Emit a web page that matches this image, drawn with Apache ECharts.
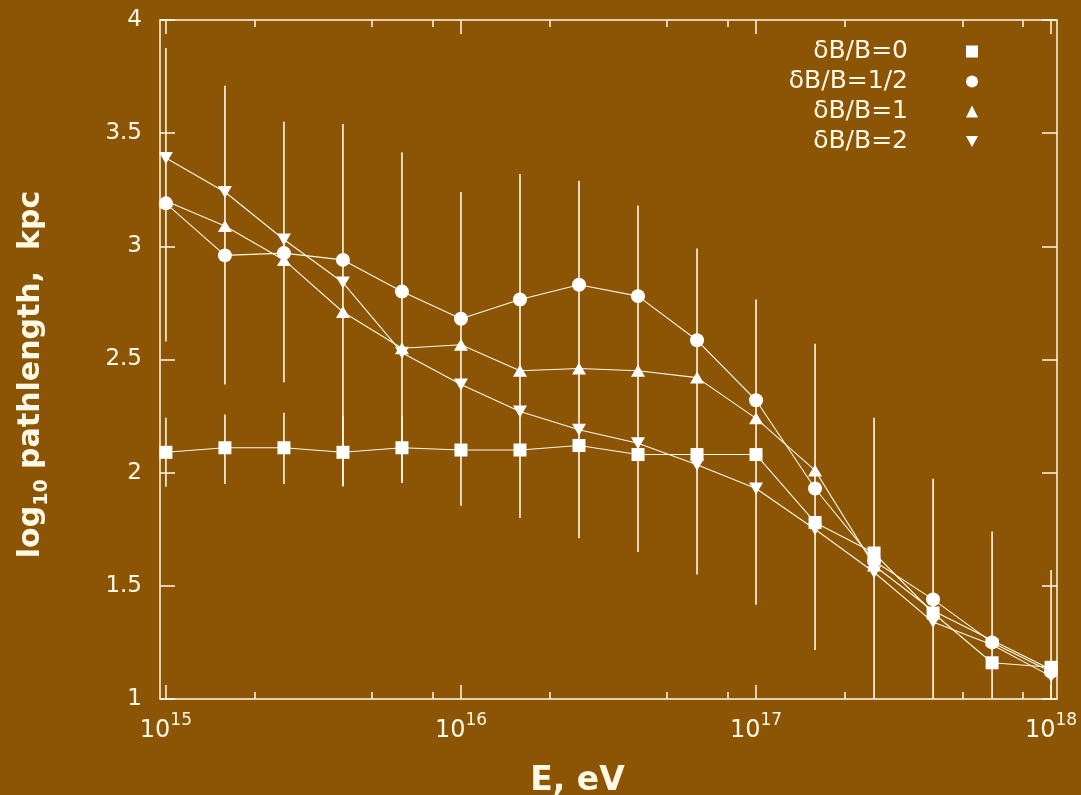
<!DOCTYPE html>
<html>
<head>
<meta charset="utf-8">
<script src="https://cdn.jsdelivr.net/npm/echarts@6/dist/echarts.min.js"></script>
<style>
html, body { margin: 0; padding: 0; background: #8c5505; }
#chart { width: 1081px; height: 795px; }
</style>
</head>
<body>
<div id="chart"></div>
<script>
// energies as log10(E/eV), 5 points per decade
var logE = [15, 15.2, 15.4, 15.6, 15.8, 16, 16.2, 16.4, 16.6, 16.8, 17, 17.2, 17.4, 17.6, 17.8, 18];

var names = ['δB/B=0', 'δB/B=1/2', 'δB/B=1', 'δB/B=2'];

var dB0  = [2.09, 2.11, 2.11, 2.09, 2.11, 2.10, 2.10, 2.12, 2.08, 2.08, 2.08, 1.78, 1.645, 1.38, 1.16, 1.14];
var dB05 = [3.19, 2.96, 2.97, 2.94, 2.80, 2.68, 2.765, 2.83, 2.78, 2.585, 2.32, 1.93, 1.61, 1.44, 1.25, 1.12];
var dB1  = [3.20, 3.09, 2.94, 2.71, 2.55, 2.565, 2.45, 2.46, 2.45, 2.42, 2.24, 2.01, 1.59, 1.39, 1.26, 1.13];
var dB2  = [3.39, 3.24, 3.03, 2.84, 2.53, 2.39, 2.27, 2.19, 2.13, 2.035, 1.93, 1.75, 1.56, 1.34, 1.24, 1.10];

// wide error bars (low / high)
var errLow  = [2.58, 2.39, 2.40, 1.94, 1.956, 1.854, 1.80, 1.71, 1.65, 1.55, 1.416, 1.217, 1.0, 1.0, 1.0, 1.0];
var errHigh = [3.876, 3.71, 3.55, 3.54, 3.416, 3.24, 3.32, 3.29, 3.18, 2.99, 2.765, 2.57, 2.243, 1.973, 1.74, 1.57];
// error bars of the δB/B=0 points where they are visible
var sqErrLow  = [1.938, 1.95, 1.95, 1.94, 1.956];
var sqErrHigh = [2.243, 2.257, 2.265, 2.25, 2.25];

var xMajor = [15, 16, 17, 18];
var minorMantissa = [2, 5, 8];

var xMinor = [];
xMajor.slice(0, 3).forEach(function (d) {
    minorMantissa.forEach(function (m) { xMinor.push(d + Math.log10(m)); });
});

var fg = '#fff8e4';
var font = 'DejaVu Sans';

function pairs(ys) {
    return logE.map(function (x, i) { return [x, ys[i]]; });
}
function bars(lo, hi) {
    return lo.map(function (l, i) { return [logE[i], l, hi[i]]; });
}
function renderBar(params, api) {
    var x = api.value(0);
    var p1 = api.coord([x, api.value(1)]);
    var p2 = api.coord([x, api.value(2)]);
    return {
        type: 'line',
        shape: { x1: p1[0], y1: p1[1], x2: p2[0], y2: p2[1] },
        style: { stroke: fg, lineWidth: 1.6 }
    };
}

function xAxisDef(pos, ticks, len, labels) {
    return {
        type: 'value', position: pos, min: 14.98, max: 18.02,
        axisLine: { show: false },
        splitLine: { show: false },
        axisTick: { show: true, inside: true, length: len, customValues: ticks,
            lineStyle: { color: fg, width: 1.5 } },
        axisLabel: labels ? {
            show: true, customValues: xMajor, margin: 13,
            formatter: function (v) { return '{b|10}{s|' + Math.round(v) + '}'; },
            rich: {
                b: { fontFamily: font, fontSize: 24, color: fg, verticalAlign: 'bottom' },
                s: { fontFamily: font, fontSize: 17, color: fg, padding: [0, 0, 14, 0], verticalAlign: 'bottom' }
            }
        } : { show: false }
    };
}

var chart = echarts.init(document.getElementById('chart'));

var xA0 = xAxisDef('bottom', xMajor, 14, true);
xA0.name = 'E, eV';
xA0.nameLocation = 'middle';
xA0.nameGap = 66;
xA0.nameTextStyle = { fontFamily: font, fontWeight: 'bold', fontSize: 33, color: fg, padding: [0, 62, 0, 0] };

var symbols = ['rect', 'circle', 'triangle', 'path://M0,0L10,0L5,9Z'];
var sizes = [13, 14, [14, 12], [14, 12]];
var sets = [dB0, dB05, dB1, dB2];

var series = [
    { type: 'custom', renderItem: renderBar, data: bars(errLow, errHigh), z: 1, silent: true },
    { type: 'custom', renderItem: renderBar, data: bars(sqErrLow, sqErrHigh), z: 1, silent: true }
];
sets.forEach(function (s, i) {
    series.push({
        name: names[i], type: 'line', data: pairs(s),
        symbol: symbols[i], symbolSize: sizes[i], showAllSymbol: true,
        lineStyle: { color: fg, width: 1.1 },
        itemStyle: { color: '#ffffff' },
        z: 3
    });
});

chart.setOption({
    animation: false,
    backgroundColor: '#8c5505',
    grid: { left: 160, top: 20, width: 897, height: 679, show: true, outerBoundsMode: 'none',
        borderColor: fg, borderWidth: 1.5, backgroundColor: 'transparent' },
    legend: {
        orient: 'vertical', right: 98, top: 32, align: 'right',
        itemWidth: 12, itemHeight: 12, itemGap: 1,
        data: names.map(function (n, i) { return { name: n, icon: symbols[i] }; }),
        textStyle: { fontFamily: font, fontSize: 25, color: fg, lineHeight: 29, padding: [0, 53, 0, 0] }
    },
    xAxis: [
        xA0,
        xAxisDef('bottom', xMinor, 7, false),
        xAxisDef('top', xMajor, 14, false),
        xAxisDef('top', xMinor, 7, false)
    ],
    yAxis: [
        {
            type: 'value', position: 'left', min: 1, max: 4, interval: 0.5,
            axisLine: { show: false }, splitLine: { show: false },
            axisTick: { show: true, inside: true, length: 15, lineStyle: { color: fg, width: 1.5 } },
            axisLabel: { fontFamily: font, fontSize: 23, color: fg, margin: 18 },
            name: '{a|log}{s|10}{a| pathlength,  kpc}',
            nameLocation: 'middle', nameRotate: 90, nameGap: 114,
            nameTextStyle: {
                padding: [0, 30, 0, 0],
                rich: {
                    a: { fontFamily: font, fontWeight: 'bold', fontSize: 30, color: fg, verticalAlign: 'bottom' },
                    s: { fontFamily: font, fontWeight: 'bold', fontSize: 19, color: fg, verticalAlign: 'bottom', padding: [0, 0, -6, 0] }
                }
            }
        },
        {
            type: 'value', position: 'right', min: 1, max: 4, interval: 0.5,
            axisLine: { show: false }, splitLine: { show: false },
            axisTick: { show: true, inside: true, length: 15, lineStyle: { color: fg, width: 1.5 } },
            axisLabel: { show: false }
        }
    ],
    series: series
});
</script>
</body>
</html>
